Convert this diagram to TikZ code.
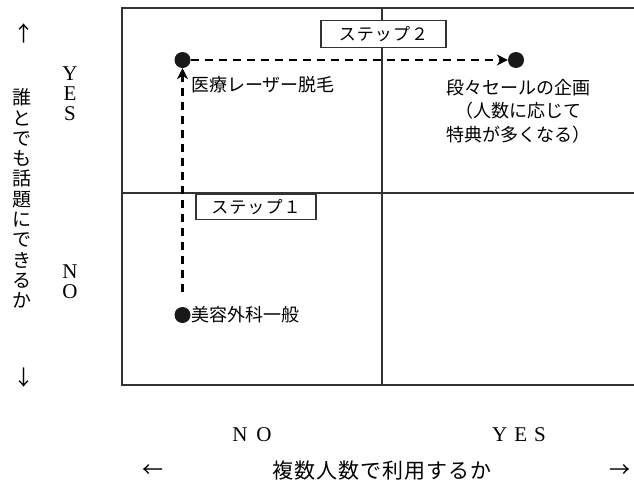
\documentclass[tikz,border=0pt]{standalone}
\usepackage{fontspec}
\setmainfont{Liberation Serif}
\newfontfamily\jp{Noto Sans CJK JP}
\usetikzlibrary{arrows.meta}
\begin{document}
\begin{tikzpicture}[x=1pt,y=-1pt,
  frame/.style={draw=black!80, line width=1.6pt},
  dot/.style={circle, fill=black!90, minimum size=16pt, inner sep=0pt},
  stepbox/.style={draw=black!80, fill=white, line width=1.4pt, inner sep=0pt,
    font=\jp\fontsize{17}{20}\selectfont\addfontfeature{LetterSpace=6}},
  lbl/.style={inner sep=0pt, font=\jp\fontsize{18}{23.5}\selectfont},
  vlbl/.style={inner sep=0pt, align=center, font=\jp\fontsize{19}{20.3}\selectfont},
  hlbl/.style={inner sep=0pt, font=\jp\fontsize{21}{24}\selectfont\addfontfeature{LetterSpace=5}},
  latin/.style={inner sep=0pt, align=center, font=\fontsize{21}{20}\selectfont},
  arrowglyph/.style={inner sep=0pt, font=\jp\fontsize{21}{21}\selectfont},
  dasharrow/.style={line width=2.6pt, dash pattern=on 8pt off 6pt, -{Stealth[length=11pt,width=11pt]}}
]
\useasboundingbox (0,0) rectangle (634,485);
\fill[white] (0,0) rectangle (634,485);

% frame
\draw[frame] (634,8) -- (122,8) -- (122,385) -- (634,385);
\draw[frame] (122,193) -- (634,193);
\draw[frame] (382,8) -- (382,385);

% step boxes
\node[stepbox, minimum width=125pt, minimum height=27pt] (s2) at (383.5,34) {ステップ２};
\node[stepbox, minimum width=120pt, minimum height=25pt] (s1) at (256,207) {ステップ１};

% dots
\node[dot] (dA) at (182.5,60) {};
\node[dot] (dB) at (516,60) {};
\node[dot] (dC) at (182.5,315) {};
\coordinate (cStart) at (182.5,292);

\draw[dasharrow] (cStart) -- (dA.south);
\draw[dasharrow] (dA.east) -- (dB.west);

% labels
\node[lbl, anchor=west] (l1) at (191,85) {医療レーザー脱毛};
\node[lbl, anchor=west] (l2) at (191,315) {美容外科一般};
\node[lbl, align=center] (l3) at (518,111) {段々セールの企画\\（人数に応じて\\特典が多くなる）};

% vertical axis
\node[arrowglyph] (upA) at (24,33) {↑};
\node[arrowglyph] (dnA) at (24,378) {↓};
\node[vlbl] (vt) at (22,198.5) {誰\\と\\で\\も\\話\\題\\に\\で\\き\\る\\か};
\node[latin] (yesV) at (70,94) {Y\\E\\S};
\node[latin] (noV) at (70,282) {N\\O};

% horizontal axis
\node[latin] (noH) at (252,435) {N\hspace{9pt}O};
\node[latin] (yesH) at (519,435) {Y\hspace{7pt}E\hspace{7pt}S};
\node[arrowglyph] (lA) at (153,471) {←};
\node[arrowglyph] (rA) at (620,471) {→};
\node[hlbl] (hl) at (382,471) {複数人数で利用するか};
\end{tikzpicture}
\end{document}
